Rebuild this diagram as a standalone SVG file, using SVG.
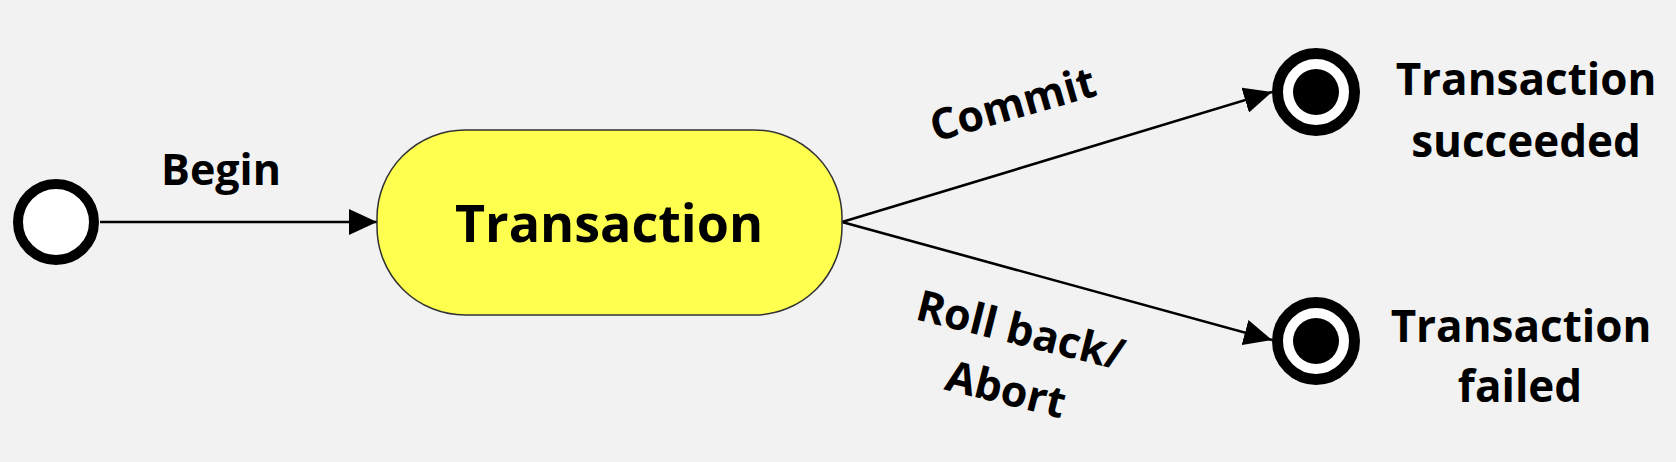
<svg xmlns="http://www.w3.org/2000/svg" width="1676" height="462" viewBox="0 0 1676 462">
<style>
.lbl{font-family:"Open Sans","Liberation Sans",sans-serif;font-weight:bold;fill:#000;}
.edge{stroke:#000;stroke-width:2.6;fill:none;}
</style>
<defs>
<marker id="arr" markerUnits="userSpaceOnUse" markerWidth="30" markerHeight="26" refX="28" refY="13" orient="auto">
<path d="M0,0 L28,13 L0,26 Z" fill="#000"/>
</marker>
</defs>
<rect width="1676" height="462" fill="#F2F2F2"/>
<g id="connectors">
<line class="edge" x1="100" y1="222" x2="377" y2="222" marker-end="url(#arr)"/>
<line class="edge" x1="842" y1="222" x2="1272" y2="92" marker-end="url(#arr)"/>
<line class="edge" x1="842" y1="222" x2="1272" y2="340" marker-end="url(#arr)"/>
<text class="lbl" x="221" y="185" font-size="43" text-anchor="middle">Begin</text>
<text class="lbl" font-size="43" transform="translate(935,142) rotate(-16)">Commit</text>
<g transform="translate(918,320) rotate(14)">
<text class="lbl" font-size="43" x="102" y="0" text-anchor="middle">Roll back/</text>
<text class="lbl" font-size="43" x="102" y="61" text-anchor="middle">Abort</text>
</g>
</g>
<g id="start">
<circle cx="56" cy="222" r="38" fill="#FFFFFF" stroke="#000" stroke-width="10"/>
</g>
<g id="transaction">
<rect x="377" y="130" width="465" height="185" rx="88" ry="88" fill="#FFFF50" stroke="#333" stroke-width="1.5"/>
<text class="lbl" x="609" y="242" font-size="52" text-anchor="middle">Transaction</text>
</g>
<g id="succeeded">
<circle cx="1316" cy="92" r="38.5" fill="#FFFFFF" stroke="#000" stroke-width="11"/>
<circle cx="1316" cy="92" r="23" fill="#000"/>
<text class="lbl" x="1526" y="95" font-size="44" text-anchor="middle">Transaction</text>
<text class="lbl" x="1526" y="157" font-size="44" text-anchor="middle">succeeded</text>
</g>
<g id="failed">
<circle cx="1316" cy="341" r="38.5" fill="#FFFFFF" stroke="#000" stroke-width="11"/>
<circle cx="1316" cy="341" r="23" fill="#000"/>
<text class="lbl" x="1521" y="342" font-size="44" text-anchor="middle">Transaction</text>
<text class="lbl" x="1520" y="402" font-size="44" text-anchor="middle">failed</text>
</g>
</svg>
